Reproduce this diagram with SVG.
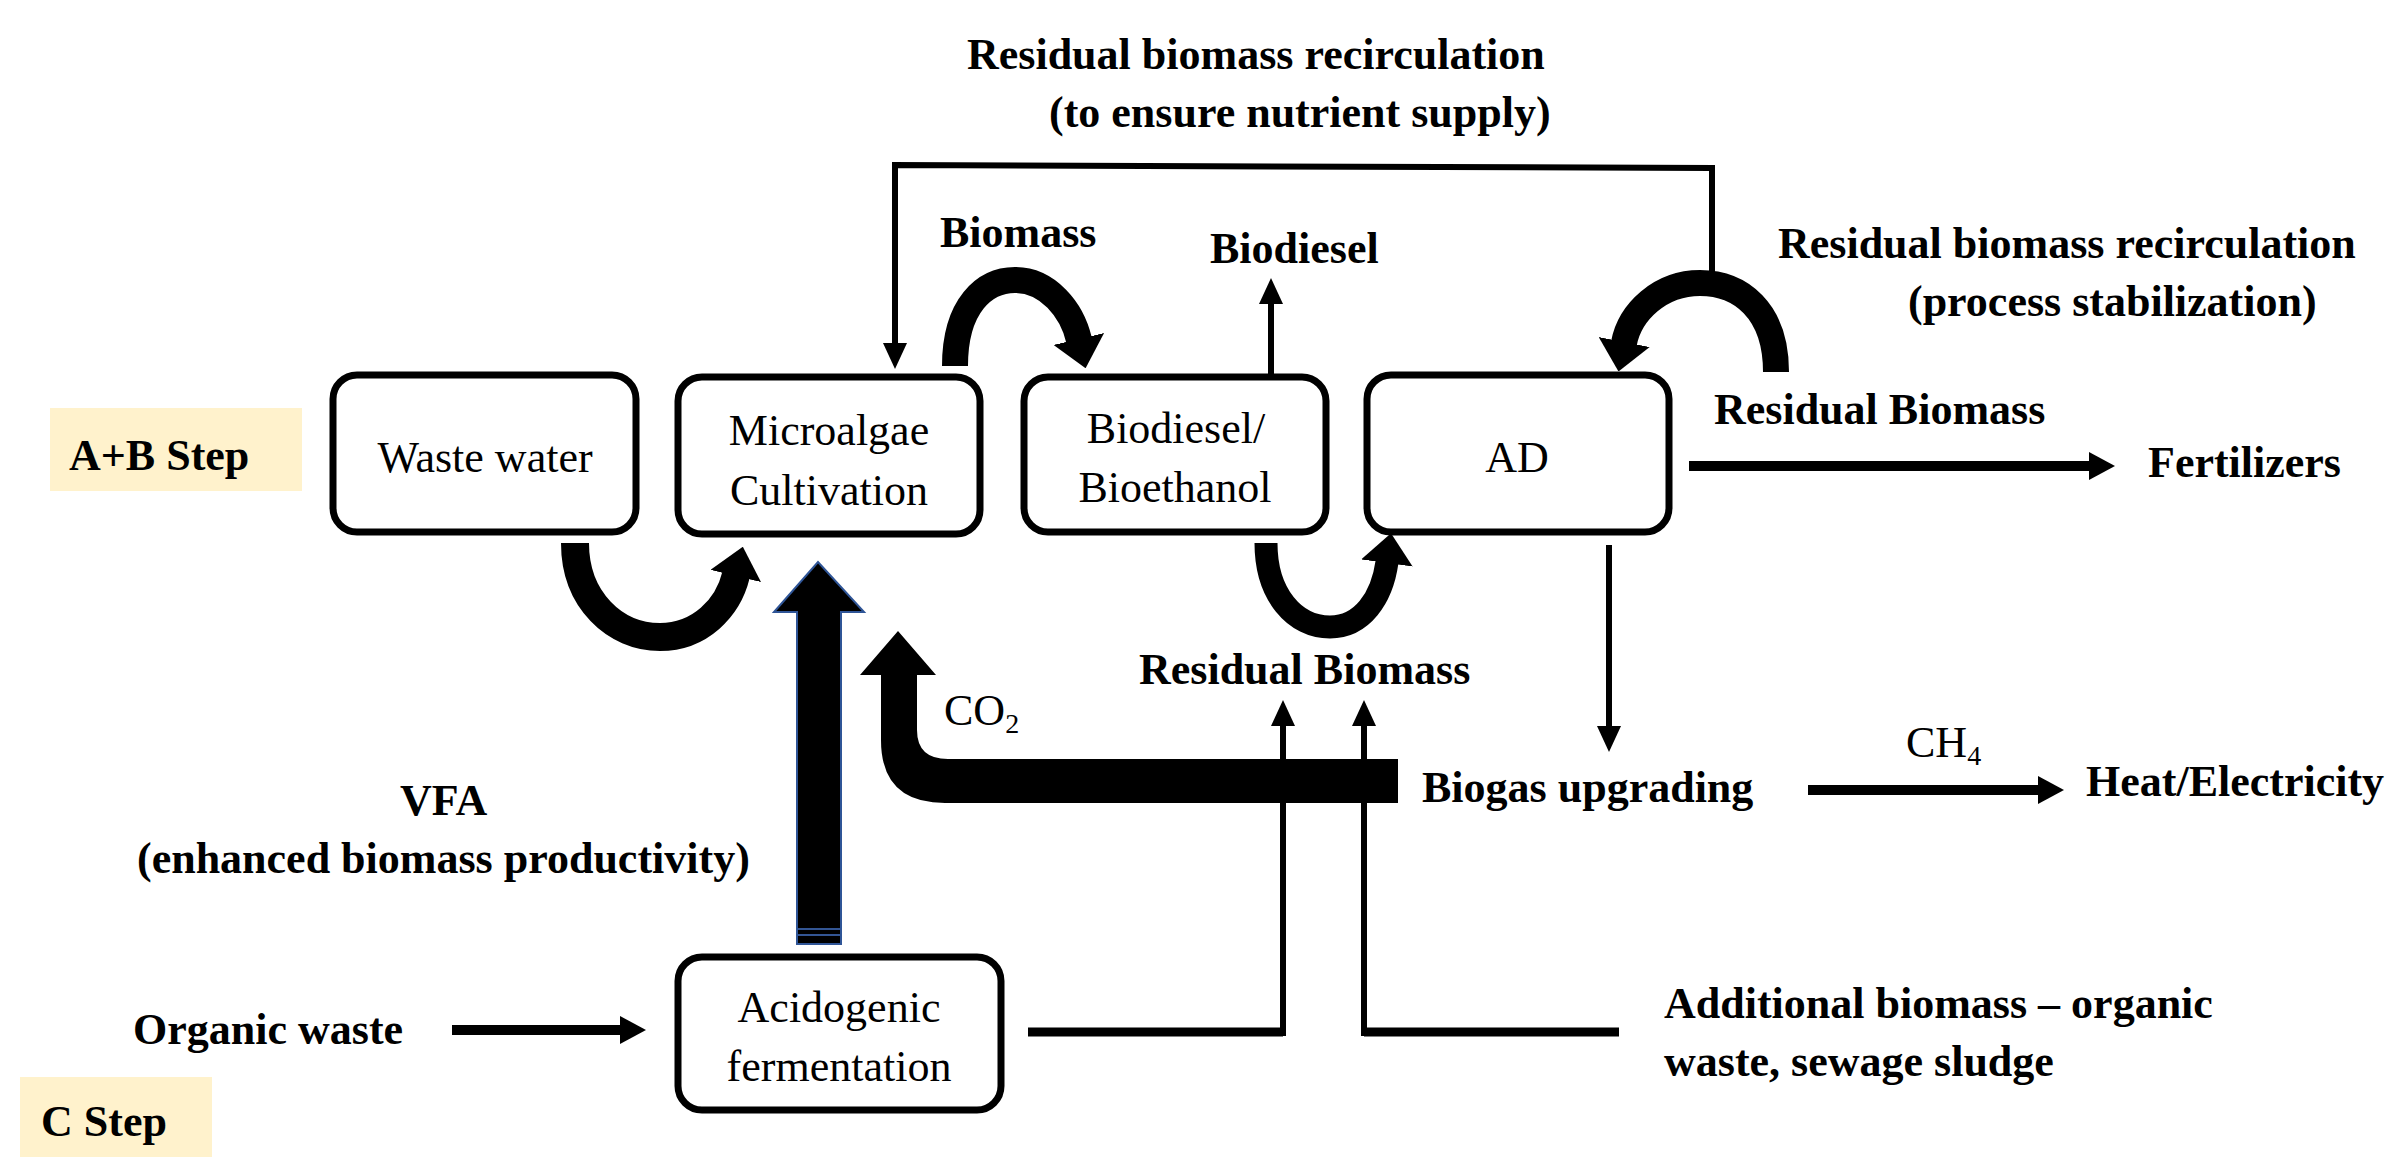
<svg xmlns="http://www.w3.org/2000/svg" width="2407" height="1157" viewBox="0 0 2407 1157">
<style>
.box{fill:#fff;stroke:#000;stroke-width:7}
.step{fill:#FFF2CC;stroke:none}
.t{font-family:"Liberation Serif","Times New Roman",serif;font-size:44px;fill:#000}
.b{font-weight:bold}
.c{text-anchor:middle}
.ln{fill:none;stroke:#000;stroke-width:6}
.lnw{fill:none;stroke:#000;stroke-width:9}
.arc{fill:none;stroke:#000;stroke-width:26}
.blk{fill:#000}
</style>
<defs>
<marker id="ah" markerUnits="userSpaceOnUse" viewBox="0 0 26 24" refX="0" refY="12" markerWidth="26" markerHeight="24" orient="auto"><path d="M0,0 L26,12 L0,24 Z" fill="#000"/></marker>
<marker id="ahw" markerUnits="userSpaceOnUse" viewBox="0 0 26 28" refX="0" refY="14" markerWidth="26" markerHeight="28" orient="auto"><path d="M0,0 L26,14 L0,28 Z" fill="#000"/></marker>
<marker id="big" markerUnits="userSpaceOnUse" viewBox="0 0 30 52" refX="1" refY="26" markerWidth="30" markerHeight="52" orient="auto"><path d="M0,0 L30,26 L0,52 Z" fill="#000"/></marker>
</defs>
<rect width="2407" height="1157" fill="#fff"/>

<g id="connectors">
<!-- top recirculation line -->
<path class="ln" d="M1712,272 L1712,168 L895,165 L895,343" marker-end="url(#ah)"/>
<!-- biomass arc -->
<path class="arc" d="M955,366 C955,305 985,280 1015,280 C1048,280 1072,310 1079,340" marker-end="url(#big)"/>
<!-- biodiesel up -->
<path class="ln" d="M1271,377 L1271,304" marker-end="url(#ah)"/>
<!-- AD recirculation arc -->
<path class="arc" d="M1776,372 C1776,310 1740,283 1700,283 C1660,283 1630,312 1624,343" marker-end="url(#big)"/>
<!-- waste water to microalgae -->
<path class="arc" style="stroke-width:28" d="M575,543 C575,600 615,637 660,637 C700,637 728,608 736,575" marker-end="url(#big)"/>
<!-- biodiesel to AD -->
<path class="arc" style="stroke-width:23" d="M1266,543 C1266,595 1295,627 1330,627 C1362,627 1382,598 1387,562" marker-end="url(#big)"/>
<!-- fertilizers -->
<path class="lnw" style="stroke-width:10" d="M1689,466 L2089,466" marker-end="url(#ahw)"/>
<!-- AD down to biogas -->
<path class="ln" d="M1609,545 L1609,726" marker-end="url(#ah)"/>
<!-- CH4 -->
<path class="lnw" style="stroke-width:10" d="M1808,790 L2038,790" marker-end="url(#ahw)"/>
<!-- VFA big arrow -->
<path d="M797,944 L797,612 L774,612 L818,562 L864,612 L841,612 L841,944 Z" fill="#000" stroke="#2F5597" stroke-width="2"/>
<path d="M798,929 L840,929 M798,935 L840,935" stroke="#4472C4" stroke-width="1.5"/>
<!-- CO2 bent arrow -->
<path class="blk" d="M1398,759 L948,759 Q917,759 917,730 L917,675 L936,675 L898,631 L860,675 L881,675 L881,740 Q881,803 945,803 L1398,803 Z"/>
<!-- residual biomass thin arrows -->
<path class="lnw" d="M1028,1032 L1283,1032"/>
<path class="ln" d="M1283,1036 L1283,726" marker-end="url(#ah)"/>
<path class="lnw" d="M1619,1032 L1364,1032"/>
<path class="ln" d="M1364,1036 L1364,726" marker-end="url(#ah)"/>
<!-- organic waste -->
<path class="lnw" style="stroke-width:10" d="M452,1030 L620,1030" marker-end="url(#ahw)"/>
</g>

<g id="step-ab"><rect class="step" x="50" y="408" width="252" height="83"/><text class="t b" x="69" y="470">A+B Step</text></g>
<g id="step-c"><rect class="step" x="20" y="1077" width="192" height="80"/><text class="t b" x="41" y="1136">C Step</text></g>

<g id="waste-water"><rect class="box" x="333" y="375" width="303" height="157" rx="24"/><text class="t c" x="485" y="472">Waste water</text></g>
<g id="microalgae"><rect class="box" x="678" y="377" width="302" height="157" rx="24"/><text class="t c" x="829" y="445">Microalgae</text><text class="t c" x="829" y="505">Cultivation</text></g>
<g id="biodiesel-bioethanol"><rect class="box" x="1024" y="377" width="302" height="155" rx="24"/><text class="t c" x="1176" y="443">Biodiesel/</text><text class="t c" x="1175" y="502">Bioethanol</text></g>
<g id="ad"><rect class="box" x="1367" y="375" width="302" height="157" rx="24"/><text class="t c" x="1517" y="472">AD</text></g>
<g id="acidogenic"><rect class="box" x="678" y="957" width="323" height="153" rx="24"/><text class="t c" x="839" y="1022">Acidogenic</text><text class="t c" x="839" y="1081">fermentation</text></g>

<g id="labels">
<text class="t b" x="967" y="69">Residual biomass recirculation</text>
<text class="t b" x="1049" y="127">(to ensure nutrient supply)</text>
<text class="t b" x="940" y="247">Biomass</text>
<text class="t b" x="1210" y="263">Biodiesel</text>
<text class="t b" x="1778" y="258">Residual biomass recirculation</text>
<text class="t b" x="1908" y="316">(process stabilization)</text>
<text class="t b" x="1714" y="424">Residual Biomass</text>
<text class="t b" x="2148" y="477">Fertilizers</text>
<text class="t b" x="1139" y="684">Residual Biomass</text>
<text class="t" x="944" y="725">CO<tspan font-size="28" dy="8">2</tspan></text>
<text class="t b" x="1422" y="802">Biogas upgrading</text>
<text class="t" x="1906" y="757">CH<tspan font-size="28" dy="8">4</tspan></text>
<text class="t b" x="2086" y="796">Heat/Electricity</text>
<text class="t b" x="400" y="815">VFA</text>
<text class="t b" x="137" y="873">(enhanced biomass productivity)</text>
<text class="t b" x="133" y="1044">Organic waste</text>
<text class="t b" x="1664" y="1018">Additional biomass – organic</text>
<text class="t b" x="1664" y="1076">waste, sewage sludge</text>
</g>
</svg>
